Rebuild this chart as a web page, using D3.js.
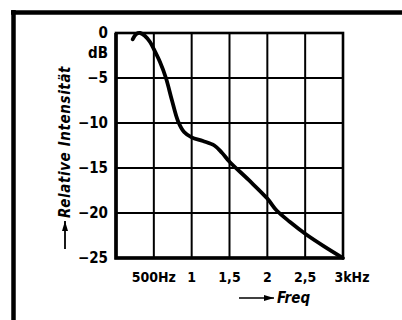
<!DOCTYPE html>
<html>
<head>
<meta charset="utf-8">
<script src="https://cdn.jsdelivr.net/npm/d3@7"></script>
<style>
  body { margin: 0; background: #fff; }
  svg { display: block; }
  text { font-family: "Liberation Sans Narrow", "DejaVu Sans Condensed", "Liberation Sans", sans-serif; font-weight: bold; fill: #000; }
</style>
</head>
<body>
<div id="chart"></div>
<script>
// frequency in kHz, relative intensity in dB
const freq = [0.22, 0.27, 0.32, 0.38, 0.45, 0.5, 0.58, 0.66, 0.74, 0.82, 0.9, 1.0, 1.15, 1.3, 1.4, 1.5, 1.75, 2.0, 2.12, 2.3, 2.5, 2.75, 3.0];
const level = [-0.7, -0.1, 0, -0.3, -1.0, -1.8, -3.2, -5, -7.5, -9.8, -11, -11.6, -12.0, -12.5, -13.3, -14.3, -16.3, -18.4, -19.7, -21.0, -22.3, -23.7, -25];
const xTicks = [0.5, 1, 1.5, 2, 2.5, 3];
const xTickLabels = ["500Hz", "1", "1,5", "2", "2,5", "3kHz"];
const yTicks = [0, -5, -10, -15, -20, -25];
const yTickLabels = ["0", "\u22125", "\u221210", "\u221215", "\u221220", "\u221225"];

const width = 402, height = 320;
const plot = { left: 116, right: 343, top: 33, bottom: 258 };

const svg = d3.select("#chart").append("svg")
  .attr("width", width)
  .attr("height", height);

// outer frame (top and left edge)
svg.append("line").attr("x1", 11).attr("x2", width).attr("y1", 12.5).attr("y2", 12.5)
  .attr("stroke", "#000").attr("stroke-width", 4.5);
svg.append("line").attr("x1", 13.5).attr("x2", 13.5).attr("y1", 10).attr("y2", height)
  .attr("stroke", "#000").attr("stroke-width", 4.5);

const x = d3.scaleLinear().domain([0, 3]).range([plot.left, plot.right]);
const y = d3.scaleLinear().domain([0, -25]).range([plot.top, plot.bottom]);

// grid
const grid = svg.append("g").attr("stroke", "#000").attr("stroke-width", 2);
grid.selectAll(".vx").data(xTicks.slice(0, -1)).join("line")
  .attr("x1", d => x(d)).attr("x2", d => x(d))
  .attr("y1", plot.top).attr("y2", plot.bottom);
grid.selectAll(".hy").data(yTicks.slice(1, -1)).join("line")
  .attr("x1", plot.left).attr("x2", plot.right)
  .attr("y1", d => y(d)).attr("y2", d => y(d));

// plot border (left and bottom drawn heavier)
svg.append("rect")
  .attr("x", plot.left).attr("y", plot.top)
  .attr("width", plot.right - plot.left).attr("height", plot.bottom - plot.top)
  .attr("fill", "none").attr("stroke", "#000").attr("stroke-width", 2.6);
svg.append("path")
  .attr("d", `M${plot.left},${plot.top}V${plot.bottom}H${plot.right}`)
  .attr("fill", "none").attr("stroke", "#000").attr("stroke-width", 3.6);

// curve
svg.append("path")
  .datum(freq.map((f, i) => [f, level[i]]))
  .attr("fill", "none")
  .attr("stroke", "#000")
  .attr("stroke-width", 3.8)
  .attr("stroke-linecap", "round")
  .attr("d", d3.line().x(d => x(d[0])).y(d => y(d[1])).curve(d3.curveCatmullRom));

// y tick labels
svg.append("g").selectAll("text").data(yTicks).join("text")
  .attr("x", 108).attr("y", d => y(d))
  .attr("dy", "0.36em")
  .attr("text-anchor", "end")
  .attr("font-size", 15)
  .text((d, i) => yTickLabels[i]);
svg.append("text").attr("x", 108).attr("y", 53).attr("dy", "0.36em")
  .attr("text-anchor", "end").attr("font-size", 15).text("dB");

// x tick labels
svg.append("g").selectAll("text").data(xTicks).join("text")
  .attr("x", (d, i) => x(d) + (i === xTicks.length - 1 ? 9 : 0))
  .attr("y", 277).attr("dy", "0.36em")
  .attr("text-anchor", "middle")
  .attr("font-size", 14)
  .text((d, i) => xTickLabels[i]);

// axis titles with arrows
const arrow = svg.append("defs").append("marker")
  .attr("id", "arr").attr("viewBox", "0 0 10 6").attr("refX", 10).attr("refY", 3)
  .attr("markerWidth", 10).attr("markerHeight", 6).attr("markerUnits", "userSpaceOnUse")
  .attr("orient", "auto");
arrow.append("path").attr("d", "M0,0 L10,3 L0,6 Z").attr("fill", "#000");

svg.append("line").attr("x1", 239).attr("x2", 274).attr("y1", 298).attr("y2", 298)
  .attr("stroke", "#000").attr("stroke-width", 1.6).attr("marker-end", "url(#arr)");
svg.append("text").attr("x", 277).attr("y", 298).attr("dy", "0.36em")
  .attr("font-size", 15).attr("font-style", "italic").text("Freq");

svg.append("line").attr("x1", 65).attr("x2", 65).attr("y1", 249).attr("y2", 221)
  .attr("stroke", "#000").attr("stroke-width", 1.8).attr("marker-end", "url(#arr)");
svg.append("text")
  .attr("transform", "translate(65,218) rotate(-90)")
  .attr("dy", "0.36em")
  .attr("font-size", 15).attr("font-style", "italic")
  .attr("letter-spacing", 0.6)
  .text("Relative  Intensität");
</script>
</body>
</html>
